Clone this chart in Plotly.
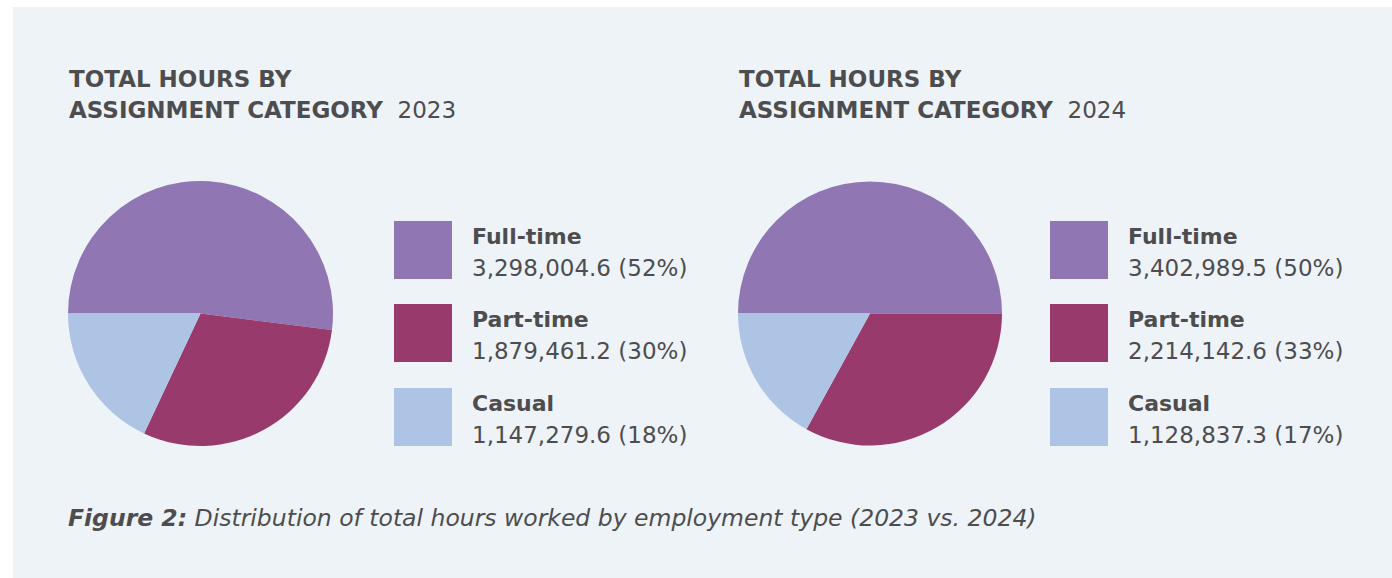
import plotly.graph_objects as go

W, H = 1392, 578

categories = ["Full-time", "Part-time", "Casual"]
hours_2023 = [3298004.6, 1879461.2, 1147279.6]
hours_2024 = [3402989.5, 2214142.6, 1128837.3]
pct_2023 = [52, 30, 18]
pct_2024 = [50, 33, 17]
years = ["2023", "2024"]

colors = ["#9076b3", "#983a6c", "#aec4e5"]
text_color = "#4d4d4f"
bg = "#eef3f8"
FONT = "DejaVu Sans"

def px_x(x):
    return x / W

def px_y(y):
    return 1 - y / H

fig = go.Figure()

# pie geometry (pixels)
pies = [
    dict(values=pct_2023, hours=hours_2023, cx=200.5, cy=313.5, r=132.5),
    dict(values=pct_2024, hours=hours_2024, cx=870.0, cy=313.5, r=132.0),
]
for p in pies:
    fig.add_trace(go.Pie(
        labels=categories,
        values=p["values"],
        customdata=p["hours"],
        sort=False,
        direction="clockwise",
        rotation=270,
        marker=dict(colors=colors, line=dict(width=0)),
        textinfo="none",
        hovertemplate="%{label}: %{customdata:,.1f} (%{value}%)<extra></extra>",
        showlegend=False,
        domain=dict(
            x=[px_x(p["cx"] - p["r"]), px_x(p["cx"] + p["r"])],
            y=[px_y(p["cy"] + p["r"]), px_y(p["cy"] - p["r"])],
        ),
    ))

shapes = [
    dict(type="rect", xref="paper", yref="paper",
         x0=px_x(13), x1=1.0, y0=0.0, y1=px_y(7),
         fillcolor=bg, line=dict(width=0), layer="below"),
]
annotations = []

# titles
title_x = [67, 737]
for tx, yr in zip(title_x, years):
    annotations.append(dict(
        x=px_x(tx), y=px_y(78.5), xref="paper", yref="paper",
        xanchor="left", yanchor="middle", showarrow=False,
        text="<b>TOTAL HOURS BY</b>",
        font=dict(family=FONT, size=23, color=text_color)))
    annotations.append(dict(
        x=px_x(tx), y=px_y(110), xref="paper", yref="paper",
        xanchor="left", yanchor="middle", showarrow=False,
        text="<b>ASSIGNMENT CATEGORY</b>&nbsp;&nbsp;" + yr,
        font=dict(family=FONT, size=23, color=text_color)))

# legends
legend_sets = [
    dict(sq_x=394, txt_x=470, values=hours_2023, pcts=pct_2023),
    dict(sq_x=1050, txt_x=1126, values=hours_2024, pcts=pct_2024),
]
sq_top = [221, 304, 388]
sq_size = 58
for ls in legend_sets:
    for i, cat in enumerate(categories):
        t = sq_top[i]
        shapes.append(dict(
            type="rect", xref="paper", yref="paper",
            x0=px_x(ls["sq_x"]), x1=px_x(ls["sq_x"] + sq_size),
            y0=px_y(t + sq_size), y1=px_y(t),
            fillcolor=colors[i], line=dict(width=0)))
        annotations.append(dict(
            x=px_x(ls["txt_x"]), y=px_y(t + 15), xref="paper", yref="paper",
            xanchor="left", yanchor="middle", showarrow=False,
            text="<b>" + cat + "</b>",
            font=dict(family=FONT, size=22, color=text_color)))
        annotations.append(dict(
            x=px_x(ls["txt_x"]), y=px_y(t + 47), xref="paper", yref="paper",
            xanchor="left", yanchor="middle", showarrow=False,
            text=f"{ls['values'][i]:,.1f} ({ls['pcts'][i]}%)",
            font=dict(family=FONT, size=23, color=text_color)))

# caption
annotations.append(dict(
    x=px_x(66), y=px_y(518), xref="paper", yref="paper",
    xanchor="left", yanchor="middle", showarrow=False,
    text="<b><i>Figure 2:</i></b><i> Distribution of total hours worked by employment type (2023 vs. 2024)</i>",
    font=dict(family=FONT, size=23.5, color=text_color)))

fig.update_layout(
    width=W, height=H,
    margin=dict(l=0, r=0, t=0, b=0),
    paper_bgcolor="white",
    plot_bgcolor="white",
    shapes=shapes,
    annotations=annotations,
)

fig.write_html("out.html", config={"displayModeBar": False},
               post_script="document.body.style.margin='0';")
